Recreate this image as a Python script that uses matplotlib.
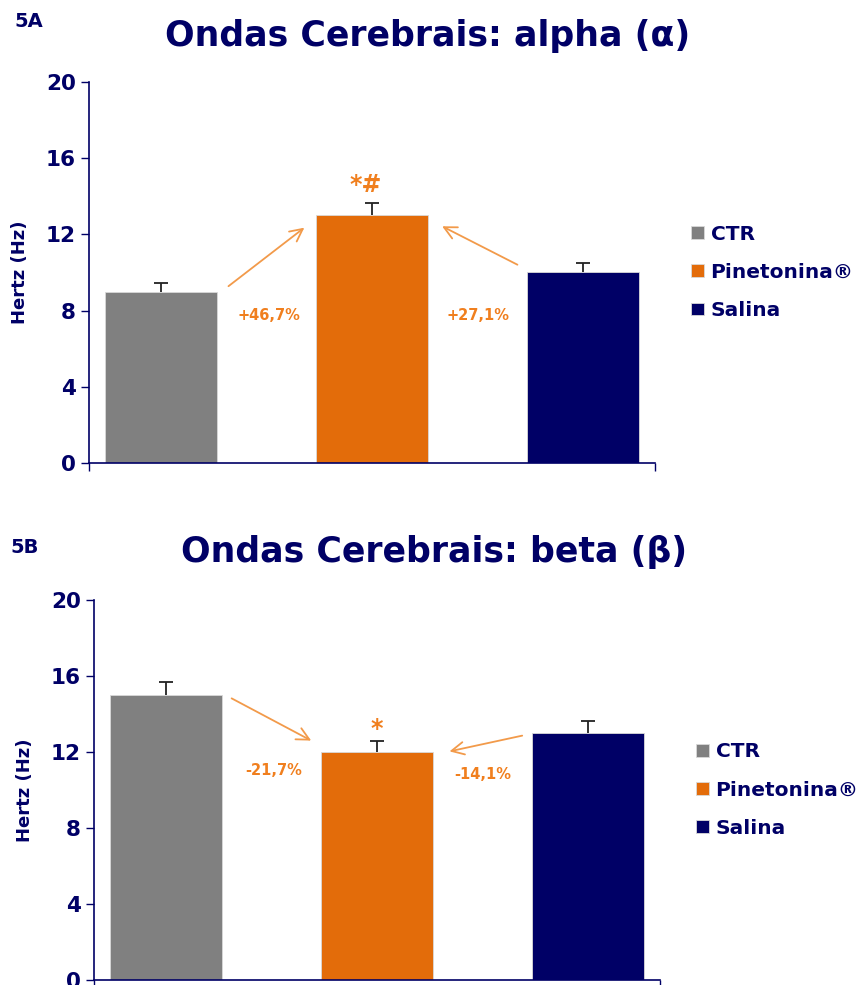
import matplotlib.pyplot as plt

groups = ["CTR", "Pinetonina®", "Salina"]
colors = ["#808080", "#E36C0A", "#000066"]

alpha_hz = [9.0, 13.0, 10.0]
alpha_err = [0.45, 0.65, 0.5]
alpha_pct = ["+46,7%", "+27,1%"]

beta_hz = [15.0, 12.0, 13.0]
beta_err = [0.7, 0.6, 0.65]
beta_pct = ["-21,7%", "-14,1%"]

yticks = [0, 4, 8, 12, 16, 20]

navy = "#000066"
arrow_col = "#F29A4A"
label_col = "#F07F1E"

plt.rcParams["font.family"] = ["DejaVu Sans"]
plt.rcParams["font.weight"] = "bold"

fig = plt.figure(figsize=(8.63, 9.85), dpi=100)


def panel(rect, values, errs, pct, marks, arrows, pct_pos, mark_pos):
    ax = fig.add_axes(rect)
    x = range(len(values))
    for i in x:
        ax.bar(
            i, values[i], width=0.53,
            color=colors[i], edgecolor="#d9d9d9", linewidth=0.6,
            label=groups[i], zorder=2
        )
    eb = ax.errorbar(
        list(x), values, yerr=[[0] * len(errs), errs],
        fmt="none", ecolor="#222222", elinewidth=1.3,
        capsize=5, capthick=1.3, zorder=1
    )
    # only the upper cap is shown
    eb[1][0].set_visible(False)

    ax.set_xlim(-0.34, 2.34)
    ax.set_ylim(0, 20)
    ax.set_yticks(yticks)
    ax.set_yticklabels([str(t) for t in yticks],
                       fontsize=15.5, fontweight="bold", color=navy)
    ax.set_xticks([-0.34, 2.34])
    ax.set_xticklabels(["", ""])
    ax.tick_params(axis="both", direction="out", length=6,
                   color=navy, width=1)
    for s in ["top", "right"]:
        ax.spines[s].set_visible(False)
    for s in ["left", "bottom"]:
        ax.spines[s].set_color(navy)
        ax.spines[s].set_linewidth(1.2)
    ax.set_ylabel("Hertz (Hz)", fontsize=13, fontweight="bold",
                  color=navy, labelpad=12)

    for (start, end) in arrows:
        ax.annotate(
            "", xy=end, xytext=start,
            arrowprops=dict(arrowstyle="->,head_length=0.9,head_width=0.45",
                            color=arrow_col, lw=1.3)
        )
    for txt, pos in zip(pct, pct_pos):
        ax.text(pos[0], pos[1], txt, ha="center", va="center",
                fontsize=10.5, fontweight="bold", color=label_col)
    ax.text(mark_pos[0], mark_pos[1], marks, ha="center", va="center",
            fontsize=17, fontweight="bold", color=label_col)

    ax.legend(
        loc="center left", bbox_to_anchor=(1.05, 0.5),
        frameon=False, handlelength=0.6, handleheight=0.6,
        handletextpad=0.35, labelspacing=0.95, borderaxespad=0,
        labelcolor=navy, prop={"weight": "bold", "size": 14.5}
    )
    return ax


panel(
    [0.1031, 0.530, 0.656, 0.3868],
    alpha_hz, alpha_err, alpha_pct, "*#",
    [((0.31, 9.19), (0.69, 12.44)), ((1.70, 10.34), (1.32, 12.49))],
    [(0.51, 7.72), (1.50, 7.72)],
    (0.97, 14.6)
)

panel(
    [0.1089, 0.0051, 0.656, 0.3858],
    beta_hz, beta_err, beta_pct, "*",
    [((0.30, 14.89), (0.70, 12.53)), ((1.70, 12.89), (1.33, 12.0))],
    [(0.51, 11.0), (1.50, 10.79)],
    (1.0, 13.2)
)

fig.text(0.496, 0.963, "Ondas Cerebrais: alpha (α)", ha="center", va="center",
         fontsize=25, fontweight="bold", color=navy)
fig.text(0.503, 0.4396, "Ondas Cerebrais: beta (β)", ha="center", va="center",
         fontsize=25, fontweight="bold", color=navy)
fig.text(0.017, 0.978, "5A", ha="left", va="center",
         fontsize=14, fontweight="bold", color=navy)
fig.text(0.012, 0.444, "5B", ha="left", va="center",
         fontsize=14, fontweight="bold", color=navy)

plt.savefig("out.png", dpi=100)
plt.close()
